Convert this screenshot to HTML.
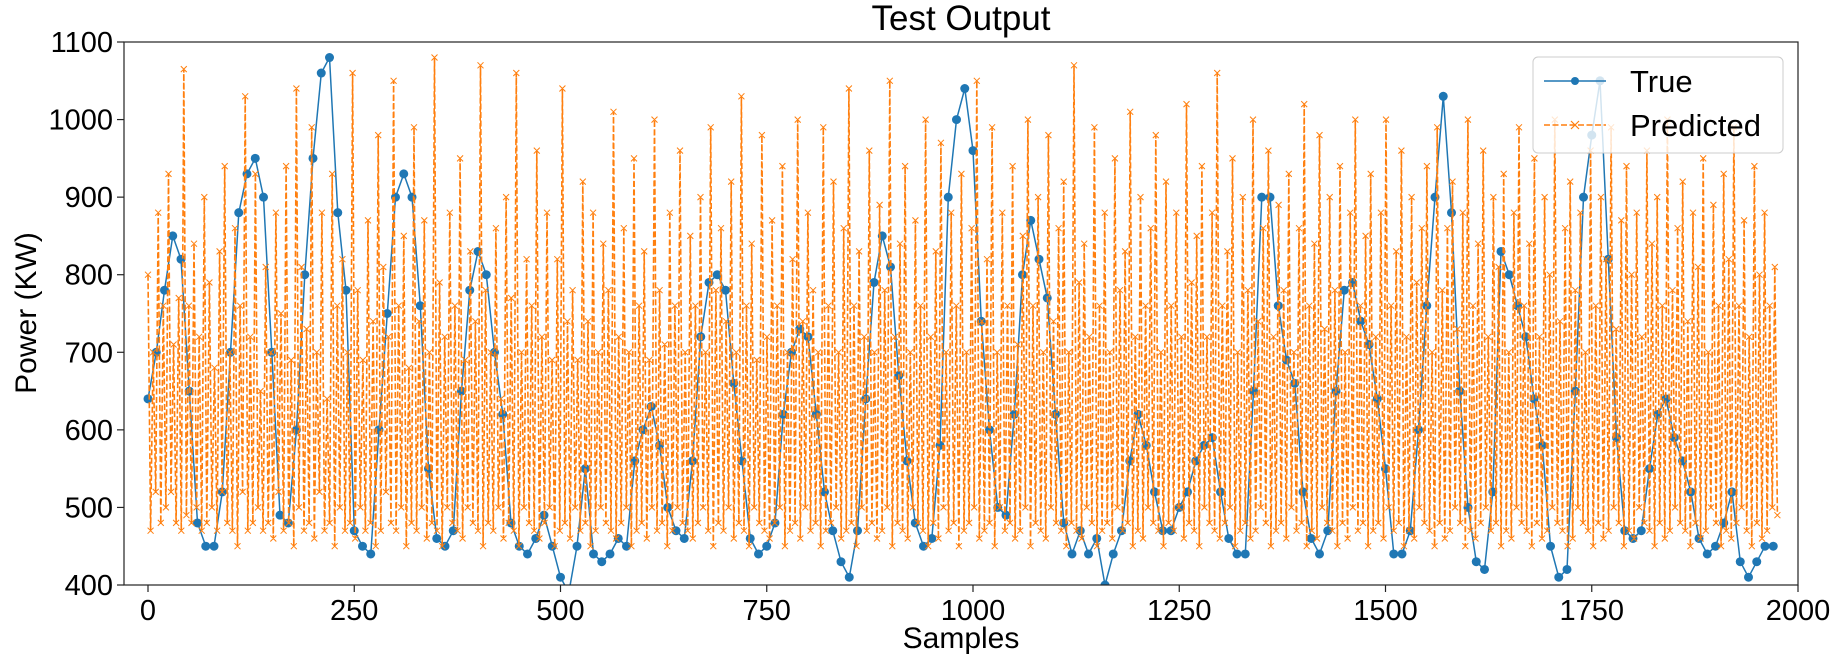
<!DOCTYPE html>
<html><head><meta charset="utf-8"><style>
body{margin:0;background:#fff;}
svg{display:block;font-family:"Liberation Sans","DejaVu Sans",sans-serif;}
</style></head><body>
<svg id="chart" width="1843" height="661" xmlns="http://www.w3.org/2000/svg">
<defs><clipPath id="clip"><rect x="124" y="42" width="1674" height="543"/></clipPath></defs>
<text x="961" y="30" font-size="35" text-anchor="middle">Test Output</text>
<g id="plot" clip-path="url(#clip)"></g>
<rect x="124" y="42" width="1674" height="543" fill="none" stroke="#222" stroke-width="1.2"/>
<g id="xticks"></g>
<g id="yticks"></g>
<text x="961" y="648" font-size="30" text-anchor="middle">Samples</text>
<text transform="translate(36,313) rotate(-90)" font-size="30" text-anchor="middle">Power (KW)</text>
<g>
<rect x="1533" y="57" width="250" height="96" rx="5" fill="#fff" fill-opacity="0.8" stroke="#ccc"/>
<g>
<line x1="1544" y1="81" x2="1606" y2="81" stroke="#1f77b4" stroke-width="1.5"/>
<circle cx="1575" cy="81" r="4" fill="#1f77b4"/>
<text x="1630" y="92" font-size="31">True</text></g>
<g>
<line x1="1544" y1="125" x2="1606" y2="125" stroke="#ff7f0e" stroke-width="1.5" stroke-dasharray="6,2.5"/>
<path d="M1571,121 l8,8 M1579,121 l-8,8" stroke="#ff7f0e" stroke-width="1.2"/>
<text x="1630" y="136" font-size="31">Predicted</text></g>
</g>
</svg>
<script>
const xTicks=[0,250,500,750,1000,1250,1500,1750,2000];
const yTicks=[400,500,600,700,800,900,1000,1100];
const trueSamples=[0,10,20,30,40,50,60,70,80,90,100,110,120,130,140,150,160,170,180,190,200,210,220,230,240,250,260,270,280,290,300,310,320,330,340,350,360,370,380,390,400,410,420,430,440,450,460,470,480,490,500,510,520,530,540,550,560,570,580,590,600,610,620,630,640,650,660,670,680,690,700,710,720,730,740,750,760,770,780,790,800,810,820,830,840,850,860,870,880,890,900,910,920,930,940,950,960,970,980,990,1000,1010,1020,1030,1040,1050,1060,1070,1080,1090,1100,1110,1120,1130,1140,1150,1160,1170,1180,1190,1200,1210,1220,1230,1240,1250,1260,1270,1280,1290,1300,1310,1320,1330,1340,1350,1360,1370,1380,1390,1400,1410,1420,1430,1440,1450,1460,1470,1480,1490,1500,1510,1520,1530,1540,1550,1560,1570,1580,1590,1600,1610,1620,1630,1640,1650,1660,1670,1680,1690,1700,1710,1720,1730,1740,1750,1760,1770,1780,1790,1800,1810,1820,1830,1840,1850,1860,1870,1880,1890,1900,1910,1920,1930,1940,1950,1960,1970];
const trueValues=[640,700,780,850,820,650,480,450,450,520,700,880,930,950,900,700,490,480,600,800,950,1060,1080,880,780,470,450,440,600,750,900,930,900,760,550,460,450,470,650,780,830,800,700,620,480,450,440,460,490,450,410,390,450,550,440,430,440,460,450,560,600,630,580,500,470,460,560,720,790,800,780,660,560,460,440,450,480,620,700,730,720,620,520,470,430,410,470,640,790,850,810,670,560,480,450,460,580,900,1000,1040,960,740,600,500,490,620,800,870,820,770,620,480,440,470,440,460,400,440,470,560,620,580,520,470,470,500,520,560,580,590,520,460,440,440,650,900,900,760,690,660,520,460,440,470,650,780,790,740,710,640,550,440,440,470,600,760,900,1030,880,650,500,430,420,520,830,800,760,720,640,580,450,410,420,650,900,980,1050,820,590,470,460,470,550,620,640,590,560,520,460,440,450,480,520,430,410,430,450,450];
const predValues=[
800,470,700,520,880,480,760,500,930,520,710,480,770,470,1065,490,760,480,840,500,
720,470,900,480,790,500,680,470,830,520,940,480,700,470,860,450,760,520,1030,470,
720,480,930,500,650,470,810,480,700,460,880,520,750,470,940,480,690,450,1040,500,
810,470,730,480,990,460,700,520,880,470,640,480,930,450,760,500,820,470,700,480,
1060,460,780,500,690,470,870,480,740,450,980,470,810,520,720,480,1050,470,760,500,
850,450,680,480,990,470,740,500,870,460,700,480,1080,470,790,450,720,500,880,480,
760,470,950,460,690,500,830,480,740,470,1070,450,780,480,700,470,860,500,640,460,
900,480,770,470,1060,450,700,500,820,480,760,470,960,460,720,480,880,500,690,450,
820,470,1040,480,740,460,780,500,690,470,920,480,740,450,880,470,700,500,840,480,
780,470,1010,460,720,480,860,500,700,450,950,470,760,480,830,460,690,500,1000,470,
780,480,710,450,880,470,760,500,960,480,700,470,850,460,760,480,900,500,700,470,
990,450,780,480,860,470,740,500,920,460,700,480,1030,470,760,450,840,500,690,480,
980,470,720,460,870,480,760,500,940,450,700,470,820,480,1000,460,740,500,880,470,
780,480,700,450,990,470,760,480,920,500,700,460,860,470,1040,480,760,450,830,500,
720,470,960,480,700,460,890,470,780,500,1050,450,720,480,840,470,940,460,700,500,
870,480,760,470,1000,450,720,480,830,460,970,500,700,470,880,480,760,450,930,470,
700,480,860,500,1050,460,740,470,820,480,990,450,700,500,880,470,760,480,940,460,
710,470,850,500,1000,450,760,480,900,470,700,460,980,500,740,480,860,470,920,450,
700,480,1070,470,790,460,840,500,720,480,990,450,760,470,880,480,700,460,950,500,
780,470,830,480,1010,450,720,470,900,460,760,500,860,480,980,470,700,450,920,480,
760,470,880,500,720,460,1020,480,790,470,850,450,940,500,720,480,880,470,1060,460,
760,480,830,500,950,450,700,470,900,480,780,460,1000,470,740,500,860,480,960,450,
720,470,890,480,780,460,930,500,700,470,860,480,1020,450,760,470,840,460,980,500,
730,480,900,470,780,450,940,480,700,460,880,500,1000,470,760,480,850,450,930,470,
720,480,880,460,1000,500,760,470,830,480,960,450,720,470,900,460,790,500,860,480,
940,470,700,450,990,480,780,460,860,470,920,500,730,480,880,450,1000,470,760,460,
840,480,960,500,720,470,900,480,810,450,930,470,700,460,880,500,990,480,760,470,
840,450,950,480,720,460,900,470,800,500,1000,480,740,470,860,450,920,460,780,500,
880,480,700,470,960,450,760,480,900,460,820,470,990,500,730,480,870,450,940,470,
800,460,880,500,720,480,960,470,840,450,900,480,760,460,1000,470,780,500,860,480,
920,470,740,450,880,480,810,460,950,470,700,500,890,480,760,450,930,470,820,460,
990,480,760,500,870,470,720,450,940,480,800,460,880,470,760,500,810,490
];
const predLastSample=1975;

const NS="http://www.w3.org/2000/svg";
function xs(s){return 148+s*(1650/2000);}
function ys(v){return 585-(v-400)*(543/700);}
function mk(tag,attrs,parent){const e=document.createElementNS(NS,tag);for(const k in attrs)e.setAttribute(k,attrs[k]);parent.appendChild(e);return e;}

const xg=document.getElementById('xticks');
xTicks.forEach(t=>{
  const l=mk('line',{x1:xs(t),x2:xs(t),y1:585,y2:592,stroke:'#222','stroke-width':1.2},xg);
  
  
  const tx=mk('text',{x:xs(t),y:620,'font-size':29,'text-anchor':'middle'},xg);
  tx.textContent=t;
  
  
});
const yg=document.getElementById('yticks');
yTicks.forEach(t=>{
  const l=mk('line',{x1:117,x2:124,y1:ys(t),y2:ys(t),stroke:'#222','stroke-width':1.2},yg);
  
  
  const tx=mk('text',{x:113,y:ys(t)+10,'font-size':29,'text-anchor':'end'},yg);
  tx.textContent=t;
  
  
});

const plot=document.getElementById('plot');
let d='';
trueSamples.forEach((s,i)=>{d+=(i?'L':'M')+xs(s).toFixed(1)+','+ys(trueValues[i]).toFixed(1);});
const tl=mk('path',{d:d,fill:'none',stroke:'#1f77b4','stroke-width':1.5},plot);


const tm=mk('g',{fill:'#1f77b4'},plot);


trueSamples.forEach((s,i)=>{
  const c=mk('circle',{cx:xs(s),cy:ys(trueValues[i]),r:4.5},tm);
  
  
});
const step=predLastSample/(predValues.length-1);
let pd='',pm='';
predValues.forEach((v,i)=>{
  const x=xs(i*step),y=ys(v);
  pd+=(i?'L':'M')+x.toFixed(1)+','+y.toFixed(1);
  pm+='M'+(x-3).toFixed(1)+','+(y-3).toFixed(1)+'l6,6M'+(x+3).toFixed(1)+','+(y-3).toFixed(1)+'l-6,6';
});
const pl=mk('path',{d:pd,fill:'none',stroke:'#ff7f0e','stroke-width':1.6,'stroke-dasharray':'6,2.5'},plot);


const pmk=mk('path',{d:pm,fill:'none',stroke:'#ff7f0e','stroke-width':1},plot);


</script>
</body></html>
